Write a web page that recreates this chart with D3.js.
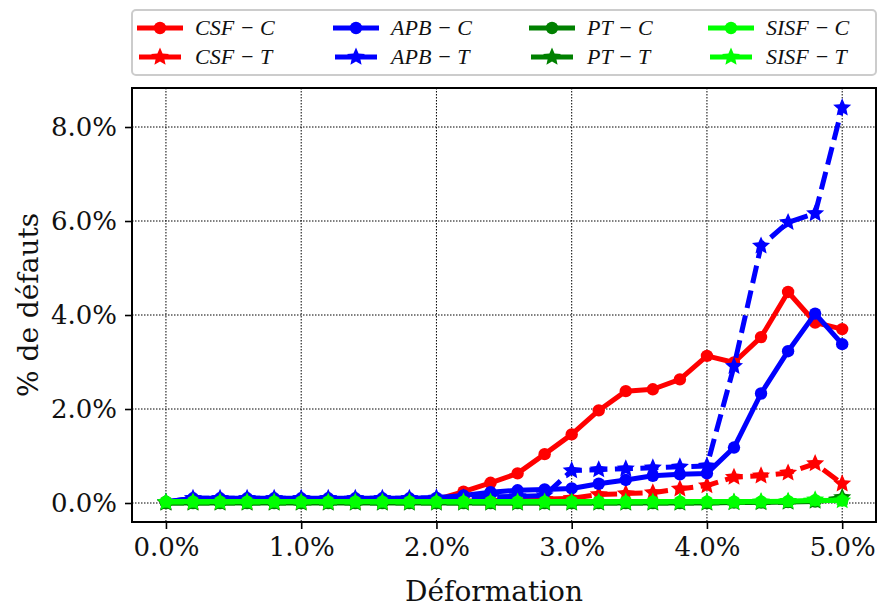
<!DOCTYPE html>
<html>
<head>
<meta charset="utf-8">
<script src="https://cdn.jsdelivr.net/npm/d3@7"></script>
<style>
  html, body { margin: 0; padding: 0; background: #fff; }
  svg { display: block; }
</style>
</head>
<body>
<svg id="chart" width="878" height="608"></svg>
<script>
// ---- data ----
const strain = [0.0, 0.2, 0.4, 0.6, 0.8, 1.0, 1.2, 1.4, 1.6, 1.8, 2.0, 2.2, 2.4, 2.6, 2.8, 3.0, 3.2, 3.4, 3.6, 3.8, 4.0, 4.2, 4.4, 4.6, 4.8, 5.0];
const csfC  = [0.02, 0.05, 0.05, 0.05, 0.05, 0.05, 0.05, 0.05, 0.05, 0.05, 0.07, 0.24, 0.43, 0.63, 1.04, 1.46, 1.97, 2.38, 2.42, 2.63, 3.13, 2.99, 3.53, 4.49, 3.84, 3.70];
const csfT  = [0.01, 0.02, 0.02, 0.02, 0.02, 0.02, 0.02, 0.02, 0.02, 0.02, 0.03, 0.03, 0.04, 0.05, 0.08, 0.10, 0.18, 0.20, 0.22, 0.30, 0.37, 0.55, 0.58, 0.64, 0.84, 0.41];
const apbC  = [0.02, 0.10, 0.10, 0.10, 0.10, 0.10, 0.10, 0.10, 0.10, 0.10, 0.11, 0.16, 0.23, 0.27, 0.29, 0.31, 0.41, 0.49, 0.58, 0.61, 0.63, 1.18, 2.33, 3.23, 4.03, 3.38];
const apbT  = [0.02, 0.10, 0.10, 0.10, 0.10, 0.10, 0.10, 0.10, 0.10, 0.10, 0.11, 0.11, 0.13, 0.14, 0.16, 0.69, 0.71, 0.73, 0.75, 0.77, 0.79, 2.91, 5.47, 5.97, 6.16, 8.41];
const ptC   = [0.0, 0.0, 0.0, 0.0, 0.0, 0.0, 0.0, 0.0, 0.0, 0.0, 0.0, 0.0, 0.0, 0.0, 0.0, 0.0, 0.0, 0.0, 0.0, 0.0, 0.0, 0.01, 0.01, 0.02, 0.03, 0.08];
const ptT   = [0.0, 0.0, 0.0, 0.0, 0.0, 0.0, 0.0, 0.0, 0.0, 0.0, 0.0, 0.0, 0.0, 0.0, 0.0, 0.0, 0.0, 0.0, 0.0, 0.0, 0.0, 0.01, 0.01, 0.02, 0.04, 0.12];
const sisfC = [0.03, 0.03, 0.03, 0.03, 0.03, 0.03, 0.03, 0.03, 0.03, 0.03, 0.03, 0.03, 0.03, 0.03, 0.03, 0.03, 0.03, 0.03, 0.03, 0.03, 0.03, 0.03, 0.03, 0.04, 0.06, 0.05];
const sisfT = [0.02, 0.02, 0.02, 0.02, 0.02, 0.02, 0.02, 0.02, 0.02, 0.02, 0.02, 0.02, 0.02, 0.02, 0.02, 0.02, 0.02, 0.02, 0.02, 0.02, 0.02, 0.02, 0.03, 0.04, 0.07, 0.05];

const seriesNames = ["CSF − C", "CSF − T", "APB − C", "APB − T", "PT − C", "PT − T", "SISF − C", "SISF − T"];
const seriesValues = [csfC, csfT, apbC, apbT, ptC, ptT, sisfC, sisfT];
const seriesColors = ["#ff0000", "#ff0000", "#0000ff", "#0000ff", "#008000", "#008000", "#00ff00", "#00ff00"];
const seriesKind = ["C", "T", "C", "T", "C", "T", "C", "T"];

const xTicks = [0, 1, 2, 3, 4, 5];
const yTicks = [0, 2, 4, 6, 8];
const xLabel = "Déformation";
const yLabel = "% de défauts";

// ---- layout ----
const svg = d3.select("#chart");
const L = 132, R = 876, T = 88, B = 522;
const x = d3.scaleLinear().domain([-0.251, 5.25]).range([L, R]);
const y = d3.scaleLinear().domain([-0.404, 8.83]).range([B, T]);

const tickFont = "DejaVu Serif, serif";

// grid
const grid = svg.append("g");
grid.selectAll("line.gx").data(xTicks).enter().append("line")
  .attr("x1", d => x(d)).attr("x2", d => x(d)).attr("y1", T).attr("y2", B)
  .attr("stroke", "#000").attr("stroke-width", 1).attr("stroke-dasharray", "1.5,1.5");
grid.selectAll("line.gy").data(yTicks).enter().append("line")
  .attr("y1", d => y(d)).attr("y2", d => y(d)).attr("x1", L).attr("x2", R)
  .attr("stroke", "#000").attr("stroke-width", 1).attr("stroke-dasharray", "1.5,1.5");

// star path
function starPath(ro, ri) {
  const pts = [];
  for (let i = 0; i < 10; i++) {
    const a = -Math.PI / 2 + i * Math.PI / 5;
    const r = i % 2 === 0 ? ro : ri;
    pts.push([r * Math.cos(a), r * Math.sin(a)]);
  }
  return "M" + pts.map(p => p[0].toFixed(2) + "," + p[1].toFixed(2)).join("L") + "Z";
}
const STAR = starPath(9.5, 4.4);

const line = d3.line().x(d => x(d[0])).y(d => y(d[1]));
const plot = svg.append("g");
seriesValues.forEach((vals, i) => {
  const pts = strain.map((s, k) => [s, vals[k]]);
  const g = plot.append("g");
  g.append("path").datum(pts)
    .attr("d", line)
    .attr("fill", "none")
    .attr("stroke", seriesColors[i])
    .attr("stroke-width", 5)
    .attr("stroke-linejoin", "round")
    .attr("stroke-dasharray", seriesKind[i] === "T" ? "18,7.5" : null);
  if (seriesKind[i] === "C") {
    g.selectAll("circle").data(pts).enter().append("circle")
      .attr("cx", d => x(d[0])).attr("cy", d => y(d[1])).attr("r", 6.2)
      .attr("fill", seriesColors[i]);
  } else {
    g.selectAll("path.m").data(pts).enter().append("path")
      .attr("d", STAR)
      .attr("transform", d => `translate(${x(d[0])},${y(d[1])})`)
      .attr("fill", seriesColors[i]);
  }
});

// spines
svg.append("rect").attr("x", L).attr("y", T).attr("width", R - L).attr("height", B - T)
  .attr("fill", "none").attr("stroke", "#000").attr("stroke-width", 2);

// axes
const xAxis = d3.axisBottom(x).tickValues(xTicks).tickFormat(d => d3.format(".1f")(d) + "%").tickSize(7).tickPadding(9);
const yAxis = d3.axisLeft(y).tickValues(yTicks).tickFormat(d => d3.format(".1f")(d) + "%").tickSize(7).tickPadding(8);
const gx = svg.append("g").attr("transform", `translate(0,${B})`).call(xAxis);
const gy = svg.append("g").attr("transform", `translate(${L},0)`).call(yAxis);
[gx, gy].forEach(g => {
  g.select(".domain").remove();
  g.selectAll(".tick line").attr("stroke", "#000").attr("stroke-width", 1.6);
  g.selectAll(".tick text").attr("fill", "#111").style("font-family", tickFont).style("font-size", "26px");
});

// axis labels
svg.append("text").attr("x", (L + R) / 2 - 10).attr("y", 601)
  .attr("text-anchor", "middle").style("font-family", tickFont).style("font-size", "28px").attr("fill", "#111")
  .text(xLabel);
svg.append("text").attr("transform", `translate(38,${(T + B) / 2}) rotate(-90)`)
  .attr("text-anchor", "middle").style("font-family", tickFont).style("font-size", "28px").attr("fill", "#111")
  .text(yLabel);

// legend
const leg = svg.append("g");
leg.append("rect").attr("x", 132).attr("y", 10).attr("width", 744).attr("height", 65).attr("rx", 4)
  .attr("fill", "#fff").attr("stroke", "#cccccc").attr("stroke-width", 2);
const colX = [137, 333, 529, 708];
const rowY = [28, 57];
seriesNames.forEach((name, i) => {
  const c = Math.floor(i / 2), r = i % 2;
  const x0 = colX[c], yy = rowY[r];
  const g = leg.append("g").attr("transform", `translate(${x0},${yy})`);
  if (seriesKind[i] === "C") {
    g.append("line").attr("x1", 0).attr("x2", 46).attr("y1", 0).attr("y2", 0)
      .attr("stroke", seriesColors[i]).attr("stroke-width", 5);
    g.append("circle").attr("cx", 23).attr("cy", 0).attr("r", 6.2).attr("fill", seriesColors[i]);
  } else {
    g.append("line").attr("x1", 2).attr("x2", 44).attr("y1", 0).attr("y2", 0)
      .attr("stroke", seriesColors[i]).attr("stroke-width", 5);
    g.append("path").attr("d", STAR).attr("transform", "translate(23,0)").attr("fill", seriesColors[i]);
  }
  g.append("text").attr("x", 58).attr("y", 7)
    .style("font-family", "Liberation Serif, serif").style("font-style", "italic").style("font-size", "22px")
    .attr("fill", "#111").text(name);
});
</script>
</body>
</html>
